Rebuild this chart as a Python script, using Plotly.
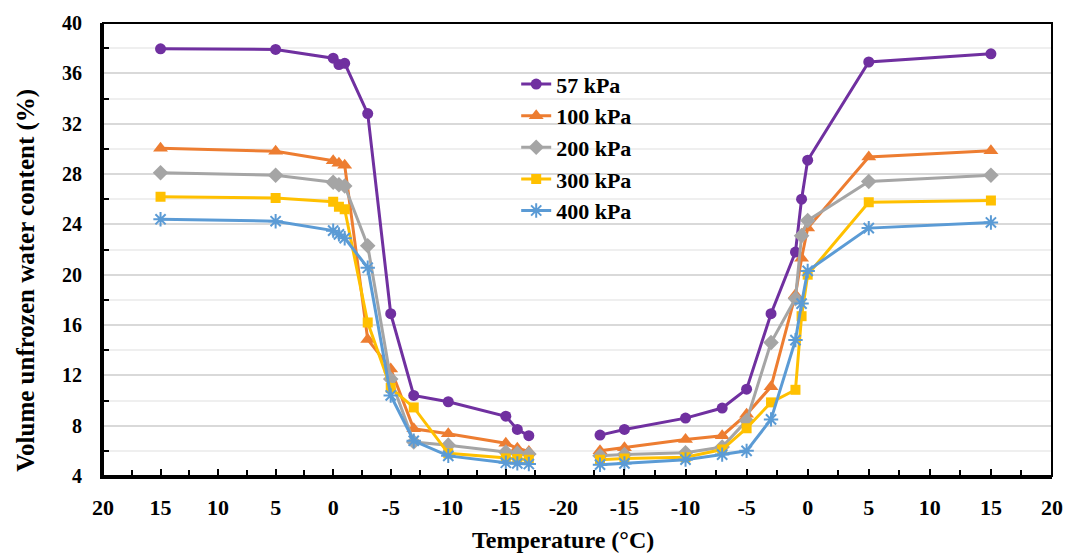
import plotly.graph_objects as go

# Temperatures (°C) of the freezing (cooling) and thawing (warming) paths
cool_temp = [15, 5, 0, -0.5, -1, -3, -5, -7, -10, -15, -16, -17]
warm_temp = [-17, -15, -10, -7, -5, -3, -1, -0.5, 0, 5, 15]

# Volume unfrozen water content (%) along the cooling path
cool_57 = [37.95, 37.9, 37.2, 36.7, 36.8, 32.8, 16.9, 10.4, 9.9, 8.75, 7.7, 7.2]
cool_100 = [30.05, 29.8, 29.05, 28.85, 28.7, 14.85, 12.5, 7.75, 7.35, 6.6, 6.2, 5.95]
cool_200 = [28.1, 27.9, 27.35, 27.15, 27.05, 22.3, 11.7, 6.7, 6.45, 5.9, 5.8, 5.75]
cool_300 = [26.2, 26.1, 25.8, 25.4, 25.2, 16.2, 11.0, 9.45, 5.8, 5.4, 5.35, 5.3]
cool_400 = [24.4, 24.25, 23.5, 23.2, 22.9, 20.55, 10.4, 6.8, 5.6, 5.05, 5.0, 4.95]

# Volume unfrozen water content (%) along the warming path
warm_57 = [7.25, 7.7, 8.6, 9.4, 10.9, 16.9, 21.8, 26.0, 29.1, 36.9, 37.55]
warm_100 = [6.0, 6.25, 6.9, 7.2, 8.9, 11.1, 18.4, 21.3, 23.7, 29.35, 29.85]
warm_200 = [5.6, 5.7, 5.85, 6.3, 8.4, 14.6, 18.1, 23.1, 24.3, 27.4, 27.9]
warm_300 = [5.3, 5.4, 5.5, 6.1, 7.8, 9.85, 10.85, 16.7, 20.0, 25.75, 25.9]
warm_400 = [4.9, 5.0, 5.3, 5.7, 6.0, 8.5, 14.8, 17.7, 20.3, 23.7, 24.15]

series_names = ["57 kPa", "100 kPa", "200 kPa", "300 kPa", "400 kPa"]
cool_values = [cool_57, cool_100, cool_200, cool_300, cool_400]
warm_values = [warm_57, warm_100, warm_200, warm_300, warm_400]

# Axis tick labels
left_ticks = [20, 15, 10, 5, 0, -5, -10, -15, -20]
right_ticks = [-15, -10, -5, 0, 5, 10, 15, 20]
y_ticks = [4, 8, 12, 16, 20, 24, 28, 32, 36, 40]

colors = ["#7030A0", "#ED7D31", "#A5A5A5", "#FFC000", "#5B9BD5"]
symbols = ["circle", "triangle-up", "diamond", "square", "asterisk-open"]
sizes = [11, 13, 12, 10, 12]

FONT = "Liberation Serif"
SPLIT = 0.4851

fig = go.Figure()

for name, cv, wv, col, sym, sz in zip(series_names, cool_values, warm_values,
                                      colors, symbols, sizes):
    marker = dict(symbol=sym, size=sz, color=col,
                  line=dict(color=col, width=2 if sym == "asterisk-open" else 0))
    fig.add_trace(go.Scatter(
        x=cool_temp, y=cv, name=name, legendgroup=name,
        mode="lines+markers", line=dict(color=col, width=3),
        marker=marker, xaxis="x", yaxis="y"))
    fig.add_trace(go.Scatter(
        x=warm_temp, y=wv, name=name, legendgroup=name, showlegend=False,
        mode="lines+markers", line=dict(color=col, width=3),
        marker=marker, xaxis="x2", yaxis="y"))

tickfont_x = dict(family=FONT, size=22, color="black", weight="bold")
tickfont_y = dict(family=FONT, size=20, color="black", weight="bold")

common_x = dict(
    showline=True, linecolor="black", linewidth=3,
    showgrid=False, zeroline=False,
    ticks="inside", ticklen=7, tickwidth=2, tickcolor="black",
    tickfont=tickfont_x, ticklabelstandoff=10,
    anchor="y",
)

fig.update_layout(
    width=1079, height=553,
    margin=dict(l=103, r=16, t=19, b=77),
    plot_bgcolor="white", paper_bgcolor="white",
    xaxis=dict(
        domain=[0, SPLIT], range=[20, -20],
        tickmode="array", tickvals=left_ticks,
        ticktext=[str(v) for v in left_ticks],
        minor=dict(tickmode="array",
                   tickvals=[17.5, 12.5, 7.5, 2.5, -2.5, -7.5, -12.5, -17.5],
                   ticks="inside", ticklen=6, tickwidth=2, tickcolor="black"),
        **common_x),
    xaxis2=dict(
        domain=[SPLIT, 1], range=[-20, 20],
        tickmode="array", tickvals=right_ticks,
        ticktext=[str(v) for v in right_ticks],
        minor=dict(tickmode="array",
                   tickvals=[-17.5, -12.5, -7.5, -2.5, 2.5, 7.5, 12.5, 17.5],
                   ticks="inside", ticklen=6, tickwidth=2, tickcolor="black"),
        **common_x),
    yaxis=dict(
        domain=[0, 1], range=[4, 40], anchor="x",
        tickmode="array", tickvals=y_ticks,
        ticktext=[str(v) for v in y_ticks],
        showline=True, linecolor="black", linewidth=3,
        showgrid=True, gridcolor="#D9D9D9", gridwidth=2,
        zeroline=False,
        ticks="", tickfont=tickfont_y, ticklabelstandoff=14,
        minor=dict(tickmode="array",
                   tickvals=[6, 10, 14, 18, 22, 26, 30, 34, 38],
                   ticks="inside", ticklen=6, tickwidth=2, tickcolor="black",
                   showgrid=True, gridcolor="#EFEFEF", gridwidth=2),
    ),
    legend=dict(
        x=0.4354, y=0.911, xanchor="left", yanchor="top",
        bgcolor="rgba(0,0,0,0)", borderwidth=0,
        font=dict(family=FONT, size=22, color="black", weight="bold"),
        itemwidth=30, tracegroupgap=0,
    ),
    shapes=[dict(type="rect", xref="paper", yref="paper",
                 x0=0, x1=1, y0=0, y1=1,
                 line=dict(color="black", width=2), layer="above")],
    annotations=[
        dict(text="Temperature (°C)", xref="paper", yref="paper",
             x=SPLIT, y=-0.142, xanchor="center", yanchor="middle",
             showarrow=False,
             font=dict(family=FONT, size=24, color="black", weight="bold")),
        dict(text="Volume unfrozen water content (%)", xref="paper", yref="paper",
             x=-0.0813, y=0.433, xanchor="center", yanchor="middle",
             textangle=-90, showarrow=False,
             font=dict(family=FONT, size=25, color="black", weight="bold")),
    ],
)

fig.write_html("out.html")
